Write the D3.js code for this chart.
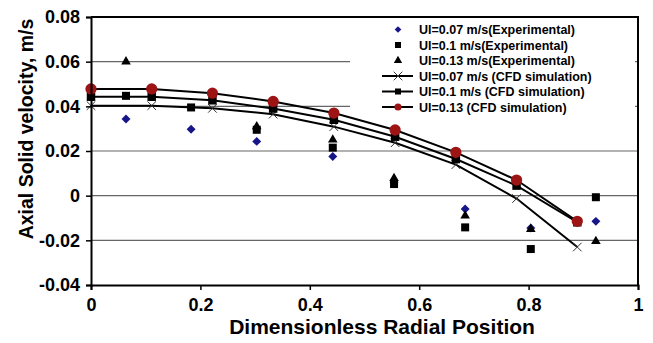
<!DOCTYPE html>
<html lang="en">
<head>
<meta charset="UTF-8">
<title>Axial solid velocity</title>
<script src="https://d3js.org/d3.v7.min.js"></script>
<style>
body { margin: 0; background: #fff; }
text { font-family: "Liberation Sans", Arial, sans-serif; font-weight: bold; fill: #000; }
</style>
</head>
<body>
<div id="container"></div>
<script>
// CFD simulation profiles
const cfdX = [0, 0.111, 0.222, 0.333, 0.444, 0.556, 0.667, 0.778, 0.889];
const cfd007 = [0.0403, 0.0403, 0.0391, 0.0365, 0.0309, 0.0237, 0.0139, -0.0013, -0.0230];
const cfd01 = [0.0443, 0.0443, 0.0427, 0.0390, 0.0340, 0.0264, 0.0164, 0.0045, -0.0119];
const cfd013 = [0.0478, 0.0478, 0.0459, 0.0422, 0.0370, 0.0294, 0.0194, 0.0070, -0.0115];

// experimental points
const expX = [0.064, 0.183, 0.303, 0.442, 0.554, 0.684, 0.804, 0.923];
const exp007 = [0.0343, 0.0297, 0.0243, 0.0175, 0.0060, -0.0060, -0.0145, -0.0115];
const exp01 = [0.0447, 0.0395, 0.0295, 0.0215, 0.0052, -0.0142, -0.0239, -0.0007];
const exp013 = [0.0600, null, 0.0310, 0.0250, 0.0078, -0.0090, -0.0150, -0.0204];

const xTicks = [0, 0.2, 0.4, 0.6, 0.8, 1];
const yTicks = [-0.04, -0.02, 0, 0.02, 0.04, 0.06, 0.08];
const legendLabels = [
  "Ul=0.07 m/s(Experimental)",
  "Ul=0.1 m/s(Experimental)",
  "Ul=0.13 m/s(Experimental)",
  "Ul=0.07 m/s (CFD simulation)",
  "Ul=0.1 m/s (CFD simulation)",
  "Ul=0.13 (CFD simulation)"
];

const width = 653, height = 343;
const mLeft = 91, mRight = 638, mTop = 17, mBottom = 285;
const red = "#9c1414", navy = "#16168a";

const svg = d3.select("#container").append("svg")
  .attr("width", width).attr("height", height);

const x = d3.scaleLinear().domain([0, 1]).range([mLeft, mRight]);
const y = d3.scaleLinear().domain([-0.04, 0.08]).range([mBottom, mTop]);

// gridlines
svg.append("g").selectAll("line")
  .data(yTicks.filter(d => d > -0.04 && d < 0.08))
  .join("line")
  .attr("x1", mLeft).attr("x2", mRight)
  .attr("y1", d => y(d)).attr("y2", d => y(d))
  .attr("stroke", "#666").attr("stroke-width", 1.2);

// markers
const shapes = {
  diamond: d3.symbol(d3.symbolSquare, 40),
  square: d3.symbol(d3.symbolSquare, 64),
  triangle: d3.symbol(d3.symbolTriangle, 40),
  circle: d3.symbol(d3.symbolCircle, 100),
  cfdSquare: d3.symbol(d3.symbolSquare, 72),
  cross: d3.symbol(d3.symbolTimes, 50)
};

function marker(g, kind, cx, cy) {
  const p = g.append("path")
    .attr("d", shapes[kind]())
    .attr("transform", `translate(${cx},${cy})` + (kind === "diamond" ? " rotate(45)" : ""));
  if (kind === "cross") p.attr("fill", "none").attr("stroke", "#333").attr("stroke-width", 1);
  else if (kind === "diamond") p.attr("fill", navy);
  else if (kind === "circle") p.attr("fill", red);
  else p.attr("fill", "#000");
  return p;
}

const plot = svg.append("g");

// experimental series
[[exp007, "diamond"], [exp01, "square"], [exp013, "triangle"]].forEach(([vals, kind]) => {
  vals.forEach((v, i) => { if (v !== null) marker(plot, kind, x(expX[i]), y(v)); });
});

// CFD lines
const line = d3.line().x((d, i) => x(cfdX[i])).y(d => y(d));
[cfd007, cfd01, cfd013].forEach(vals => {
  plot.append("path").datum(vals)
    .attr("d", line).attr("fill", "none")
    .attr("stroke", "#000").attr("stroke-width", 2);
});
[[cfd007, "cross"], [cfd01, "cfdSquare"], [cfd013, "circle"]].forEach(([vals, kind]) => {
  vals.forEach((v, i) => marker(plot, kind, x(cfdX[i]), y(v)));
});

// legend
const lg = svg.append("g");
lg.append("rect").attr("x", 350).attr("y", mTop + 1).attr("width", 285).attr("height", 98)
  .attr("fill", "#fff");
const legendKinds = ["diamond", "square", "triangle", "cross", "cfdSquare", "circle"];
legendLabels.forEach((t, i) => {
  const ry = 29.5 + i * 15.5;
  if (i >= 3) {
    lg.append("line").attr("x1", 382).attr("x2", 413).attr("y1", ry).attr("y2", ry)
      .attr("stroke", "#000").attr("stroke-width", 2);
  }
  const m = marker(lg, legendKinds[i], 398, ry);
  if (i === 5) m.attr("d", d3.symbol(d3.symbolCircle, 40)());
  if (i === 4 || i === 1) m.attr("d", d3.symbol(d3.symbolSquare, 36)());
  if (i === 0) m.attr("d", d3.symbol(d3.symbolSquare, 22)());
  if (i === 2) m.attr("d", d3.symbol(d3.symbolTriangle, 30)());
  lg.append("text").attr("x", 419).attr("y", ry + 4.5)
    .attr("font-size", 12.5).text(t);
});

// frame
svg.append("path")
  .attr("d", `M${mLeft},${mTop}H${mRight}V${mBottom}`)
  .attr("fill", "none").attr("stroke", "#000").attr("stroke-width", 2);

// axes
const xAxis = svg.append("g").attr("transform", `translate(0,${mBottom})`)
  .call(d3.axisBottom(x).tickValues(xTicks).tickSize(5).tickPadding(8)
    .tickFormat(d => String(+d.toFixed(1))));
const yAxis = svg.append("g").attr("transform", `translate(${mLeft},0)`)
  .call(d3.axisLeft(y).tickValues(yTicks).tickSize(5).tickPadding(6)
    .tickFormat(d => String(+d.toFixed(2))));
[xAxis, yAxis].forEach(a => {
  a.select(".domain").attr("stroke", "#000").attr("stroke-width", 2);
  a.selectAll(".tick line").attr("stroke", "#000").attr("stroke-width", 1.5);
  a.selectAll("text").attr("font-size", 18)
    .attr("font-family", "Liberation Sans, Arial, sans-serif").attr("font-weight", "bold");
});

// axis titles
svg.append("text").attr("x", 382).attr("y", 334)
  .attr("text-anchor", "middle").attr("font-size", 21)
  .text("Dimensionless Radial Position");
svg.append("text")
  .attr("transform", "translate(33,129) rotate(-90)")
  .attr("text-anchor", "middle").attr("font-size", 19.5)
  .text("Axial Solid velocity, m/s");
</script>
</body>
</html>
